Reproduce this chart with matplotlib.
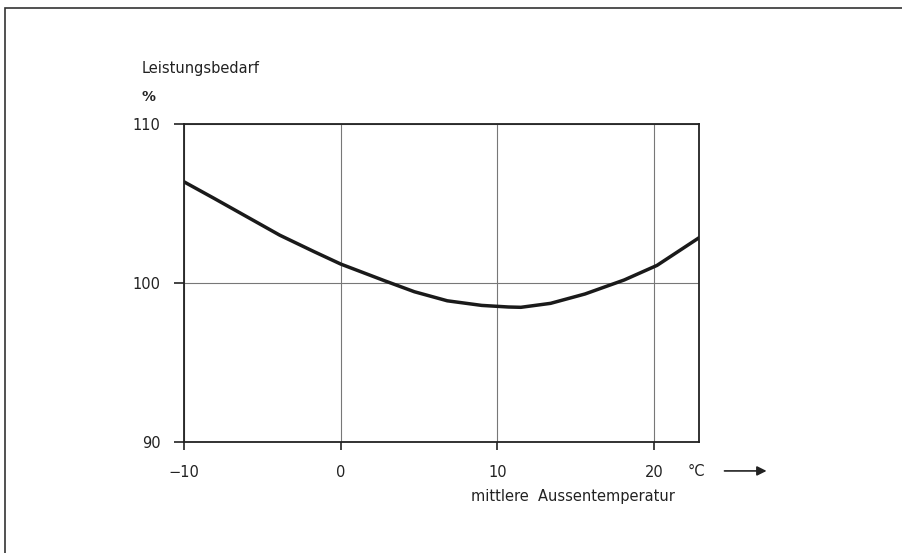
import matplotlib.pyplot as plt
from matplotlib.patches import Rectangle

# Leistungsbedarf ueber mittlerer Aussentemperatur
temp = [-10, -8.1, -6.0, -3.9, -1.7, 0, 2.8, 4.7, 6.8, 9.0, 10.7, 11.5, 13.4, 15.6, 18.1, 20.2, 22.9]
bedarf = [106.35, 105.32, 104.16, 103.0, 101.96, 101.18, 100.13, 99.44, 98.87, 98.58, 98.48, 98.46,
          98.71, 99.3, 100.18, 101.1, 102.85]

xticks = [-10, 0, 10, 20]
yticks = [90, 100, 110]

plt.rcParams['font.family'] = ['DejaVu Sans']

fig = plt.figure(figsize=(9.02, 5.53), dpi=100)
fig.patches.append(Rectangle((4.7 / 902, -0.1), 1.2, 1 - 8.3 / 553 + 0.1, transform=fig.transFigure,
                             fill=False, edgecolor='#333333', linewidth=1.2))

ax = fig.add_axes([184.3 / 902, 1 - 441.7 / 553, 515 / 902, 317.7 / 553])
ax.plot(temp, bedarf, color='#1a1a1a', linewidth=2.5, solid_joinstyle='round')

ax.set_xlim(-10, 22.9)
ax.set_ylim(90, 110)
ax.set_xticks(xticks)
ax.set_yticks(yticks)
ax.grid(True, color='#777777', linewidth=0.8)
ax.set_axisbelow(True)
for s in ax.spines.values():
    s.set_linewidth(1.3)
    s.set_color('#222222')
ax.tick_params(axis='x', direction='out', length=6, width=1.2, pad=11, labelsize=10.5, colors='#222222')
ax.tick_params(axis='y', direction='out', length=7, width=1.2, pad=10, labelsize=10.5, colors='#222222')

ax.text(0.995, -0.095, '°C', transform=ax.transAxes, ha='center', va='center', fontsize=10.5, color='#222222')
ax.annotate('', xy=(1.136, -0.092), xytext=(1.0435, -0.092), xycoords='axes fraction',
            arrowprops=dict(arrowstyle='-|>', color='#222222', lw=1.2, mutation_scale=14))
ax.text(0.754, -0.174, 'mittlere  Aussentemperatur', transform=ax.transAxes, ha='center', va='center',
        fontsize=10.5, color='#222222')

fig.text(141.7 / 902, 1 - 68 / 553, 'Leistungsbedarf', ha='left', va='center', fontsize=10.5, color='#222222')
fig.text(141.7 / 902, 1 - 97 / 553, '%', ha='left', va='center', fontsize=10, fontweight='bold', color='#222222')

fig.savefig('out.png', dpi=100)
